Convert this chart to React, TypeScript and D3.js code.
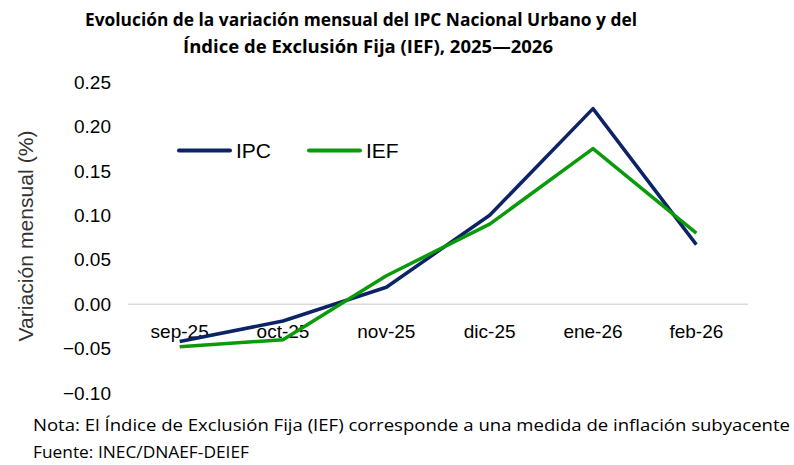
import React, { useRef, useEffect } from 'react';
import * as d3 from 'd3';

const months = ['sep-25', 'oct-25', 'nov-25', 'dic-25', 'ene-26', 'feb-26'];
const ipcValues = [-0.042, -0.019, 0.019, 0.1, 0.22, 0.067];
const iefValues = [-0.048, -0.04, 0.032, 0.09, 0.175, 0.08];
const yTicks = [-0.1, -0.05, 0, 0.05, 0.1, 0.15, 0.2, 0.25];

const series = [
  { name: 'IPC', values: ipcValues, color: '#0c2466' },
  { name: 'IEF', values: iefValues, color: '#0a9a0a' },
];

const App: React.FC = () => {
  const svgRef = useRef<SVGSVGElement>(null);

  useEffect(() => {
    if (!svgRef.current) return;
    const svg = d3.select(svgRef.current);
    svg.selectAll('*').remove();

    const left = 128;
    const right = 748;
    const top = 82;
    const bottom = 393;

    const x = d3.scaleBand().domain(months).range([left, right]);
    const y = d3.scaleLinear().domain([-0.1, 0.25]).range([bottom, top]);
    const cx = (m: string) => (x(m) as number) + x.bandwidth() / 2;

    const labelFont = '"Liberation Sans", Arial, sans-serif';
    const noteFont = '"Open Sans", Lato, sans-serif';

    // Title
    const title = svg
      .append('text')
      .attr('text-anchor', 'middle')
      .style('font-family', noteFont)
      .style('font-weight', 'bold')
      .style('font-size', '17px')
      .attr('fill', '#000');
    title.append('tspan').attr('x', 361).attr('y', 26)
      .attr('textLength', 552).attr('lengthAdjust', 'spacingAndGlyphs')
      .text('Evolución de la variación mensual del IPC Nacional Urbano y del');
    title.append('tspan').attr('x', 368).attr('y', 53)
      .attr('textLength', 370).attr('lengthAdjust', 'spacingAndGlyphs')
      .text('Índice de Exclusión Fija (IEF), 2025—2026');

    // Zero line
    svg
      .append('line')
      .attr('x1', left)
      .attr('x2', right)
      .attr('y1', y(0))
      .attr('y2', y(0))
      .attr('stroke', '#d9d9d9')
      .attr('stroke-width', 1.5);

    // Y tick labels
    svg
      .append('g')
      .selectAll('text')
      .data(yTicks)
      .enter()
      .append('text')
      .attr('x', 111)
      .attr('y', (d) => y(d))
      .attr('dy', '0.35em')
      .attr('text-anchor', 'end')
      .style('font-family', labelFont)
      .style('font-size', '19px')
      .attr('fill', '#000')
      .text((d) => d3.format('.2f')(d));

    // Y axis title
    svg
      .append('text')
      .attr('transform', `translate(33,236) rotate(-90)`)
      .attr('text-anchor', 'middle')
      .attr('textLength', 211)
      .attr('lengthAdjust', 'spacingAndGlyphs')
      .style('font-family', labelFont)
      .style('font-size', '21px')
      .attr('fill', '#333')
      .text('Variación mensual (%)');

    // Category labels
    svg
      .append('g')
      .selectAll('text')
      .data(months)
      .enter()
      .append('text')
      .attr('x', (d) => cx(d))
      .attr('y', y(0) + 34)
      .attr('text-anchor', 'middle')
      .style('font-family', labelFont)
      .style('font-size', '19px')
      .attr('fill', '#000')
      .text((d) => d);

    // Lines
    const line = d3
      .line<number>()
      .x((_, i) => cx(months[i]))
      .y((d) => y(d));

    series.forEach((s) => {
      svg
        .append('path')
        .datum(s.values)
        .attr('fill', 'none')
        .attr('stroke', s.color)
        .attr('stroke-width', 3.5)
        .attr('stroke-linejoin', 'round')
        .attr('d', line);
    });

    // Legend
    const legend = svg.append('g').attr('transform', `translate(177,${y(0.173)})`);
    series.forEach((s, i) => {
      const g = legend.append('g').attr('transform', `translate(${i * 130},0)`);
      g.append('line')
        .attr('x1', 2)
        .attr('x2', 53)
        .attr('stroke', s.color)
        .attr('stroke-width', 4)
        .attr('stroke-linecap', 'round');
      g.append('text')
        .attr('x', 59)
        .attr('dy', '0.36em')
        .style('font-family', labelFont)
        .style('font-size', '21px')
        .attr('fill', '#000')
        .text(s.name);
    });

    // Notes
    const notes = [
      { text: 'Nota: El Índice de Exclusión Fija (IEF) corresponde a una medida de inflación subyacente', len: 757 },
      { text: 'Fuente: INEC/DNAEF-DEIEF', len: 216 },
    ];
    svg
      .append('g')
      .selectAll('text')
      .data(notes)
      .enter()
      .append('text')
      .attr('x', 33)
      .attr('y', (_, i) => 431 + i * 27)
      .attr('textLength', (d) => d.len)
      .attr('lengthAdjust', 'spacingAndGlyphs')
      .style('font-family', noteFont)
      .style('font-size', '16px')
      .attr('fill', '#000')
      .text((d) => d.text);
  }, []);

  return (
    <svg
      ref={svgRef}
      width={794}
      height={465}
      style={{ position: 'absolute', left: 0, top: 0, background: '#fff' }}
    />
  );
};

export default App;
